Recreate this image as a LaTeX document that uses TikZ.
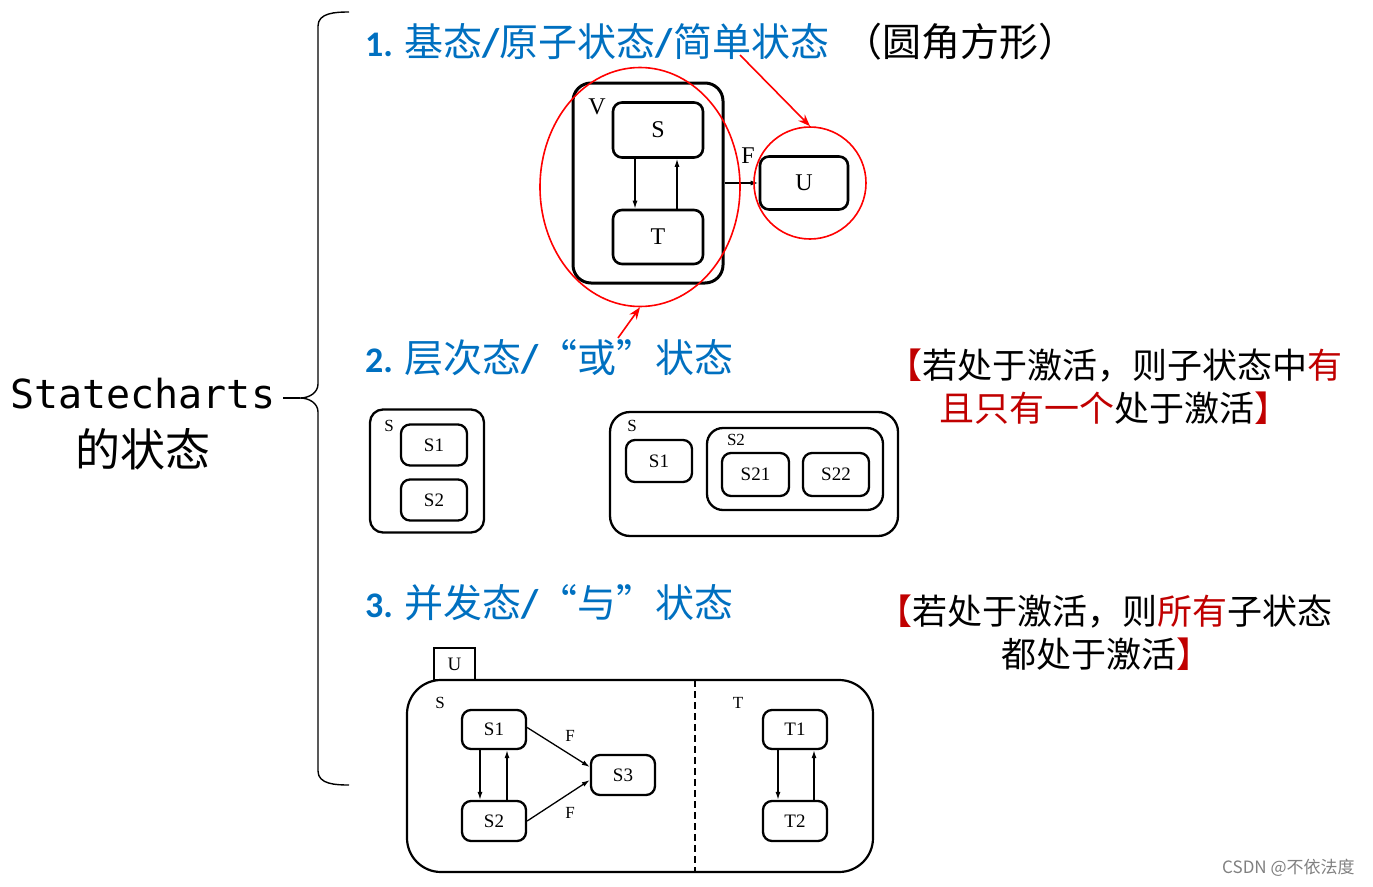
\documentclass[tikz,border=0pt]{standalone}
\usepackage{fontspec}
\setmainfont{Liberation Serif}
\newfontfamily\cjk{Noto Sans CJK SC}
\newfontfamily\calibrifont{Carlito}
\newfontfamily\stmono{DejaVu Sans Mono}
\usetikzlibrary{arrows.meta,shapes.geometric}
\definecolor{hblue}{RGB}{0,112,192}
\definecolor{dred}{RGB}{192,0,0}
\newcommand{\hsl}{{\calibrifont\bfseries\fontsize{40}{42}\selectfont/}}
\newcommand{\hnum}[1]{{\calibrifont\bfseries\fontsize{36}{40}\selectfont #1}}
\begin{document}
\begin{tikzpicture}[x=1pt,y=-1pt,
  txt/.style={anchor=base west, inner sep=0pt},
  sbox/.style={draw, rounded corners=9pt, line width=2.3pt, inner sep=0pt},
  lbl/.style={inner sep=0pt},
  arr/.style={-{Latex[length=8pt,width=5pt]}, line width=1.3pt},
  redarr/.style={-{Stealth[length=12pt,width=9pt]}, line width=1.6pt, draw=red},
  redmark/.style={draw=red, line width=1.6pt, inner sep=0pt},
  big/.style={font=\fontsize{24}{26}\selectfont},
  mid/.style={font=\fontsize{19}{21}\selectfont},
  small/.style={font=\fontsize{17}{19}\selectfont},
  head/.style={txt, text=hblue, font=\cjk\fontsize{39}{42}\selectfont}
]
\useasboundingbox (0,0) rectangle (1373,886);

% ---------- left title and brace ----------
\node[txt, font=\stmono\fontsize{40}{42}\selectfont] (st) at (10,408) {Statecharts};
\node[txt, font=\cjk\fontsize{45}{48}\selectfont] (st2) at (75,466) {的状态};
\coordinate (tip) at (300,398);
\coordinate (btop) at (349,12);
\coordinate (bbot) at (349,785);
\draw[line width=1.4pt] (btop) to[out=180,in=90] (318,26) -- (318,384) to[out=-90,in=0] (tip)
  to[out=0,in=90] (318,412) -- (318,771) to[out=-90,in=180] (bbot);
\draw[line width=1.4pt] ([xshift=8pt]st.east |- tip) -- (tip);

% ---------- headings ----------
\node[head] (h1) at (365,56) {\hnum{1.} 基态\hsl 原子状态\hsl 简单状态\hspace{14pt}\textcolor{black}{（圆角方形）}};
\node[head] (h2) at (365,372) {\hnum{2.} 层次态\hsl “或”状态};
\node[head] (h3) at (365,617) {\hnum{3.} 并发态\hsl “与”状态};

% ---------- right notes ----------
\node[txt, font=\cjk\fontsize{35}{40}\selectfont] (n1a) at (887,378) {\textcolor{dred}{【}若处于激活，则子状态中\textcolor{dred}{有}};
\node[txt, font=\cjk\fontsize{35}{40}\selectfont] (n1b) at (939,421) {\textcolor{dred}{且只有一个}处于激活\textcolor{dred}{】}};
\node[txt, font=\cjk\fontsize{35}{40}\selectfont] (n2a) at (877,624) {\textcolor{dred}{【}若处于激活，则\textcolor{dred}{所有}子状态};
\node[txt, font=\cjk\fontsize{35}{40}\selectfont] (n2b) at (1001,667) {都处于激活\textcolor{dred}{】}};

% ---------- diagram 1 ----------
\node[sbox, line width=3pt, rounded corners=18pt, minimum width=150, minimum height=200] (V) at (648,183) {};
\node[lbl, big] (Vl) at (597,107) {V};
\node[sbox, line width=2.6pt, minimum width=90, minimum height=55, big] (S) at (658,130) {S};
\node[sbox, line width=2.6pt, minimum width=90, minimum height=54, big] (T) at (658,237) {T};
\node[sbox, line width=2.6pt, minimum width=88, minimum height=53, big] (U) at (804,183) {U};
\draw[arr] ([xshift=-23pt]S.south) -- ([xshift=-23pt]T.north);
\draw[arr] ([xshift=19pt]T.north) -- ([xshift=19pt]S.south);
\draw[arr, line width=1.8pt] (V.east) -- (U.west);
\node[lbl, big] (Fl) at (748,156) {F};

\node[redmark, ellipse, minimum width=200, minimum height=239] (E1) at (640,187) {};
\node[redmark, circle, minimum size=112] (C1) at (810,183) {};
\coordinate (r1) at (740,55);
\draw[redarr] (r1) -- (C1.north);
\coordinate (r2) at (618,338);
\draw[redarr] (r2) -- (E1.south);

% ---------- diagram 2 left ----------
\node[sbox, rounded corners=13pt, minimum width=114, minimum height=123] (SL) at (427,471) {};
\node[lbl, small] (SLl) at (389,426) {S};
\node[sbox, minimum width=66, minimum height=41, mid] (S1a) at (434,445) {S1};
\node[sbox, minimum width=66, minimum height=41, mid] (S2a) at (434,500) {S2};

% ---------- diagram 2 right ----------
\node[sbox, rounded corners=20pt, minimum width=288, minimum height=124] (SR) at (754,474) {};
\node[lbl, small] (SRl) at (632,426) {S};
\node[sbox, minimum width=66, minimum height=42, mid] (S1b) at (659,461) {S1};
\node[sbox, rounded corners=16pt, minimum width=176, minimum height=82] (S2b) at (795,469) {};
\node[lbl, small] (S2bl) at (736,440) {S2};
\node[sbox, minimum width=67, minimum height=43, mid] (S21) at (755.5,474.5) {S21};
\node[sbox, minimum width=66, minimum height=43, mid] (S22) at (836,474.5) {S22};

% ---------- diagram 3 ----------
\node[draw, line width=2pt, inner sep=0pt, minimum width=41, minimum height=32, mid] (Ut) at (454.5,664) {U};
\node[sbox, line width=2.2pt, rounded corners=34pt, minimum width=466, minimum height=192] (Big) at (640,776) {};
\coordinate (dtop) at (695,680);
\coordinate (dbot) at (695,872);
\draw[line width=1.5pt, dash pattern=on 7pt off 4pt] (dtop) -- (dbot);
\node[lbl, small] (Sl3) at (440,703) {S};
\node[lbl, small] (Tl3) at (738,703) {T};
\node[sbox, minimum width=64, minimum height=39, mid] (S1c) at (494,729.5) {S1};
\node[sbox, minimum width=64, minimum height=40, mid] (S2c) at (494,821) {S2};
\node[sbox, minimum width=64, minimum height=40, mid] (S3) at (623,775) {S3};
\node[sbox, minimum width=64, minimum height=39, mid] (T1) at (795,729.5) {T1};
\node[sbox, minimum width=64, minimum height=40, mid] (T2) at (795,821) {T2};
\draw[arr] ([xshift=-14pt]S1c.south) -- ([xshift=-14pt]S2c.north);
\draw[arr] ([xshift=13pt]S2c.north) -- ([xshift=13pt]S1c.south);
\draw[arr] ([xshift=-17pt]T1.south) -- ([xshift=-17pt]T2.north);
\draw[arr] ([xshift=19pt]T2.north) -- ([xshift=19pt]T1.south);
\draw[arr] ([yshift=2pt]S1c.east) -- ([yshift=8pt]S3.west);
\draw[arr] (S2c.east) -- ([yshift=-5pt]S3.west);
\node[lbl, small] (F1) at (570,736) {F};
\node[lbl, small] (F2) at (570,813) {F};

% ---------- watermark ----------
\node[txt, text=gray, font=\cjk\fontsize{17}{19}\selectfont] (wm) at (1222,873) {CSDN @不依法度};
\end{tikzpicture}
\end{document}
